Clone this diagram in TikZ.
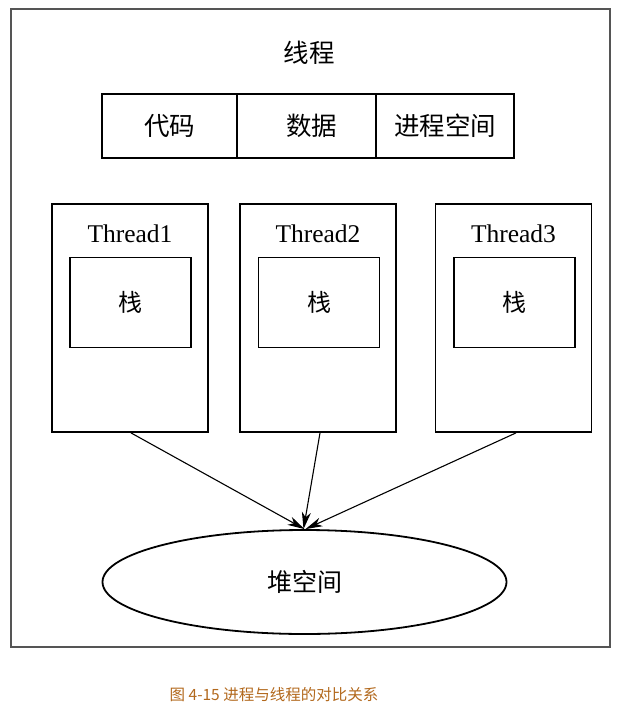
\documentclass[tikz,border=0pt]{standalone}
\usepackage{fontspec}
\setmainfont{Liberation Serif}
\newfontfamily\cjk{Noto Sans CJK SC}
\usetikzlibrary{shapes.geometric,arrows.meta}
\definecolor{capcol}{RGB}{178,104,28}
\definecolor{framecol}{RGB}{85,85,85}
\tikzset{
  box/.style={draw=black, line width=1.8pt, inner sep=0pt},
  cell/.style={box, minimum height=64pt, font=\cjk\fontsize{25.5}{25.5}\selectfont},
  threadbox/.style={box, minimum width=156pt, minimum height=228pt},
  stackbox/.style={box, minimum width=121pt, minimum height=90pt, font=\cjk\fontsize{24}{24}\selectfont},
  tlabel/.style={inner sep=0pt, font=\fontsize{25.5}{25.5}\selectfont},
  heap/.style={box, ellipse, minimum width=404pt, minimum height=104pt, font=\cjk\fontsize{25}{25}\selectfont},
  conn/.style={line width=1.1pt, -{Stealth[length=17pt,width=9pt,inset=5pt]}}
}
\begin{document}
\begin{tikzpicture}[x=1pt,y=-1pt]
\useasboundingbox (0,0) rectangle (617,709);
% outer frame
\node[draw=framecol, line width=1.3pt, minimum width=599pt, minimum height=638pt, inner sep=0pt] (frame) at (310.5,328) {};
% title
\node[inner sep=0pt, font=\cjk\fontsize{25.5}{25.5}\selectfont] (title) at (309,53) {线程};
% table cells
\node[cell, minimum width=135pt] (code) at (169.5,126) {代码};
\node[cell, minimum width=139pt] (data) at (306.5,126) {\hspace*{10pt}数据};
\node[cell, minimum width=138pt] (space) at (445,126) {进程空间};
% threads
\node[threadbox] (t1) at (130,318) {};
\node[threadbox] (t2) at (318,318) {};
\node[threadbox] (t3) at (513.5,318) {};
\node[tlabel] (l1) at (130,234) {Thread1};
\node[tlabel] (l2) at (318,234) {Thread2};
\node[tlabel] (l3) at (513.5,234) {Thread3};
\node[stackbox] (s1) at (130.5,302.5) {栈};
\node[stackbox] (s2) at (319,302.5) {栈};
\node[stackbox] (s3) at (514.5,302.5) {栈};
% heap
\node[heap] (heap) at (304.5,582) {堆空间};
% connectors
\draw[conn] ([xshift=1pt]t1.south) -- (heap.north);
\draw[conn] ([xshift=2pt]t2.south) -- ([xshift=-1pt]heap.north);
\draw[conn] ([xshift=2.5pt]t3.south) -- ([xshift=1pt]heap.north);
% caption
\node[inner sep=0pt, text=capcol, font=\cjk\fontsize{15.5}{15.5}\selectfont] (cap) at (274,695) {图 4-15 进程与线程的对比关系};
\end{tikzpicture}
\end{document}
